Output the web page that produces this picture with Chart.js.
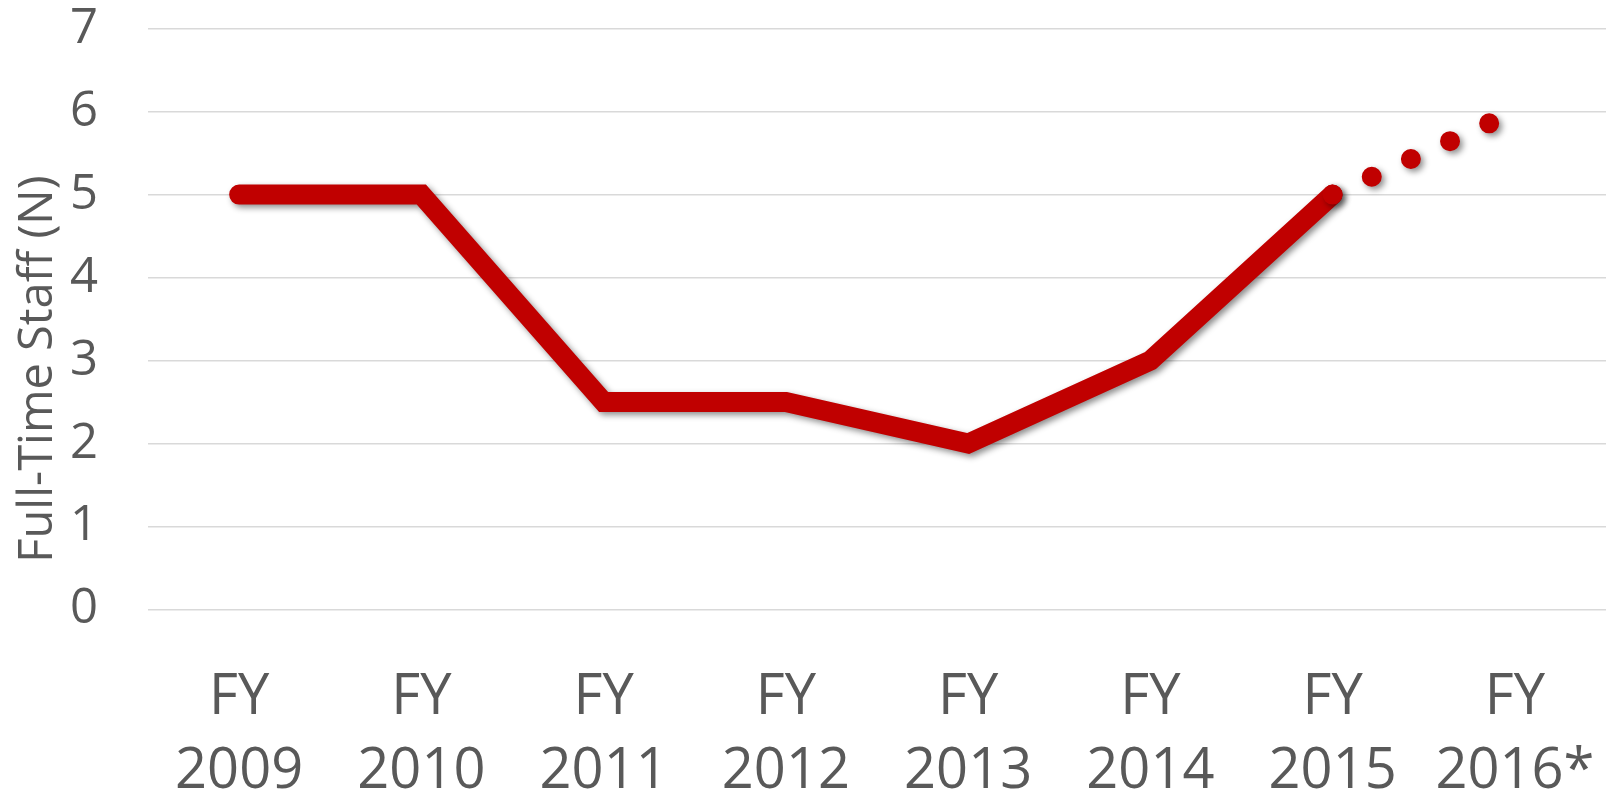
<!DOCTYPE html>
<html>
<head>
<meta charset="utf-8">
<script src="https://cdn.jsdelivr.net/npm/chart.js@4.4.1/dist/chart.umd.min.js"></script>
<style>
  html, body { margin: 0; padding: 0; background: #fff; }
  #wrap { width: 1606px; height: 795px; }
</style>
</head>
<body>
<div id="wrap"><canvas id="staff-chart"></canvas></div>
<script>
const years = [["FY", "2009"], ["FY", "2010"], ["FY", "2011"], ["FY", "2012"],
               ["FY", "2013"], ["FY", "2014"], ["FY", "2015"], ["FY", "2016*"]];
const staff = [5, 5, 2.5, 2.5, 2, 3, 5, 6];
const projectedFrom = 6; // segment after FY 2015 is an estimate
const yTicks = [0, 1, 2, 3, 4, 5, 6, 7];
const yTitle = "Full-Time Staff (N)";

const textColor = "#595959";

// soft drop shadow under the line, like the office chart
const shadowPlugin = {
  id: "lineShadow",
  beforeDatasetsDraw(chart) {
    const ctx = chart.ctx;
    ctx.save();
    ctx.shadowColor = "rgba(0,0,0,0.45)";
    ctx.shadowBlur = 6;
    ctx.shadowOffsetX = 3;
    ctx.shadowOffsetY = 3;
  },
  afterDatasetsDraw(chart) {
    chart.ctx.restore();
  },
};

// excel puts the axis title a bit below the plot centre, so draw it ourselves
const yTitlePlugin = {
  id: "yTitle",
  afterDraw(chart) {
    const ctx = chart.ctx;
    const area = chart.chartArea;
    ctx.save();
    ctx.translate(39, (area.top + area.bottom) / 2 + 50);
    ctx.rotate(-Math.PI / 2);
    ctx.font = "47px 'Open Sans'";
    ctx.fillStyle = textColor;
    ctx.textAlign = "center";
    ctx.textBaseline = "middle";
    ctx.fillText(yTitle, 0, 0);
    ctx.restore();
  },
};

const ctx = document.getElementById("staff-chart").getContext("2d");
new Chart(ctx, {
  type: "line",
  data: {
    labels: years,
    datasets: [
      {
        label: "Full-Time Staff",
        data: staff,
        borderColor: "#c00000",
        borderWidth: 20,
        borderCapStyle: "round",
        borderJoinStyle: "miter",
        pointRadius: 0,
        pointHoverRadius: 0,
        tension: 0,
        fill: false,
        segment: {
          borderDash: (c) => (c.p0DataIndex >= projectedFrom ? [0, 43] : undefined),
        },
      },
    ],
  },
  options: {
    responsive: true,
    maintainAspectRatio: false,
    animation: false,
    layout: { padding: { top: 0, right: 0, bottom: 0, left: 70 } },
    plugins: {
      legend: { display: false },
      tooltip: { enabled: false },
    },
    scales: {
      x: {
        offset: true,
        grid: {
          display: true,
          drawOnChartArea: false,
          drawTicks: true,
          tickLength: 51,
          tickColor: "rgba(0,0,0,0)",
          color: "rgba(0,0,0,0)",
        },
        border: { display: false },
        ticks: {
          color: textColor,
          font: { family: "'Open Sans'", size: 56, lineHeight: 1.33 },
          maxRotation: 0,
          autoSkip: false,
          padding: 0,
        },
        afterFit: (scale) => {
          scale.height = 185.5;
        },
      },
      y: {
        min: 0,
        max: 7,
        afterBuildTicks: (axis) => {
          axis.ticks = yTicks.map((v) => ({ value: v }));
        },
        grid: {
          color: "#d9d9d9",
          lineWidth: 1.5,
          drawTicks: true,
          tickLength: 50,
          tickColor: "rgba(0,0,0,0)",
        },
        border: { display: false },
        ticks: {
          color: textColor,
          font: { family: "'Open Sans'", size: 49, lineHeight: 1.17 },
          padding: 0,
        },
      },
    },
  },
  plugins: [shadowPlugin, yTitlePlugin],
});
</script>
</body>
</html>
